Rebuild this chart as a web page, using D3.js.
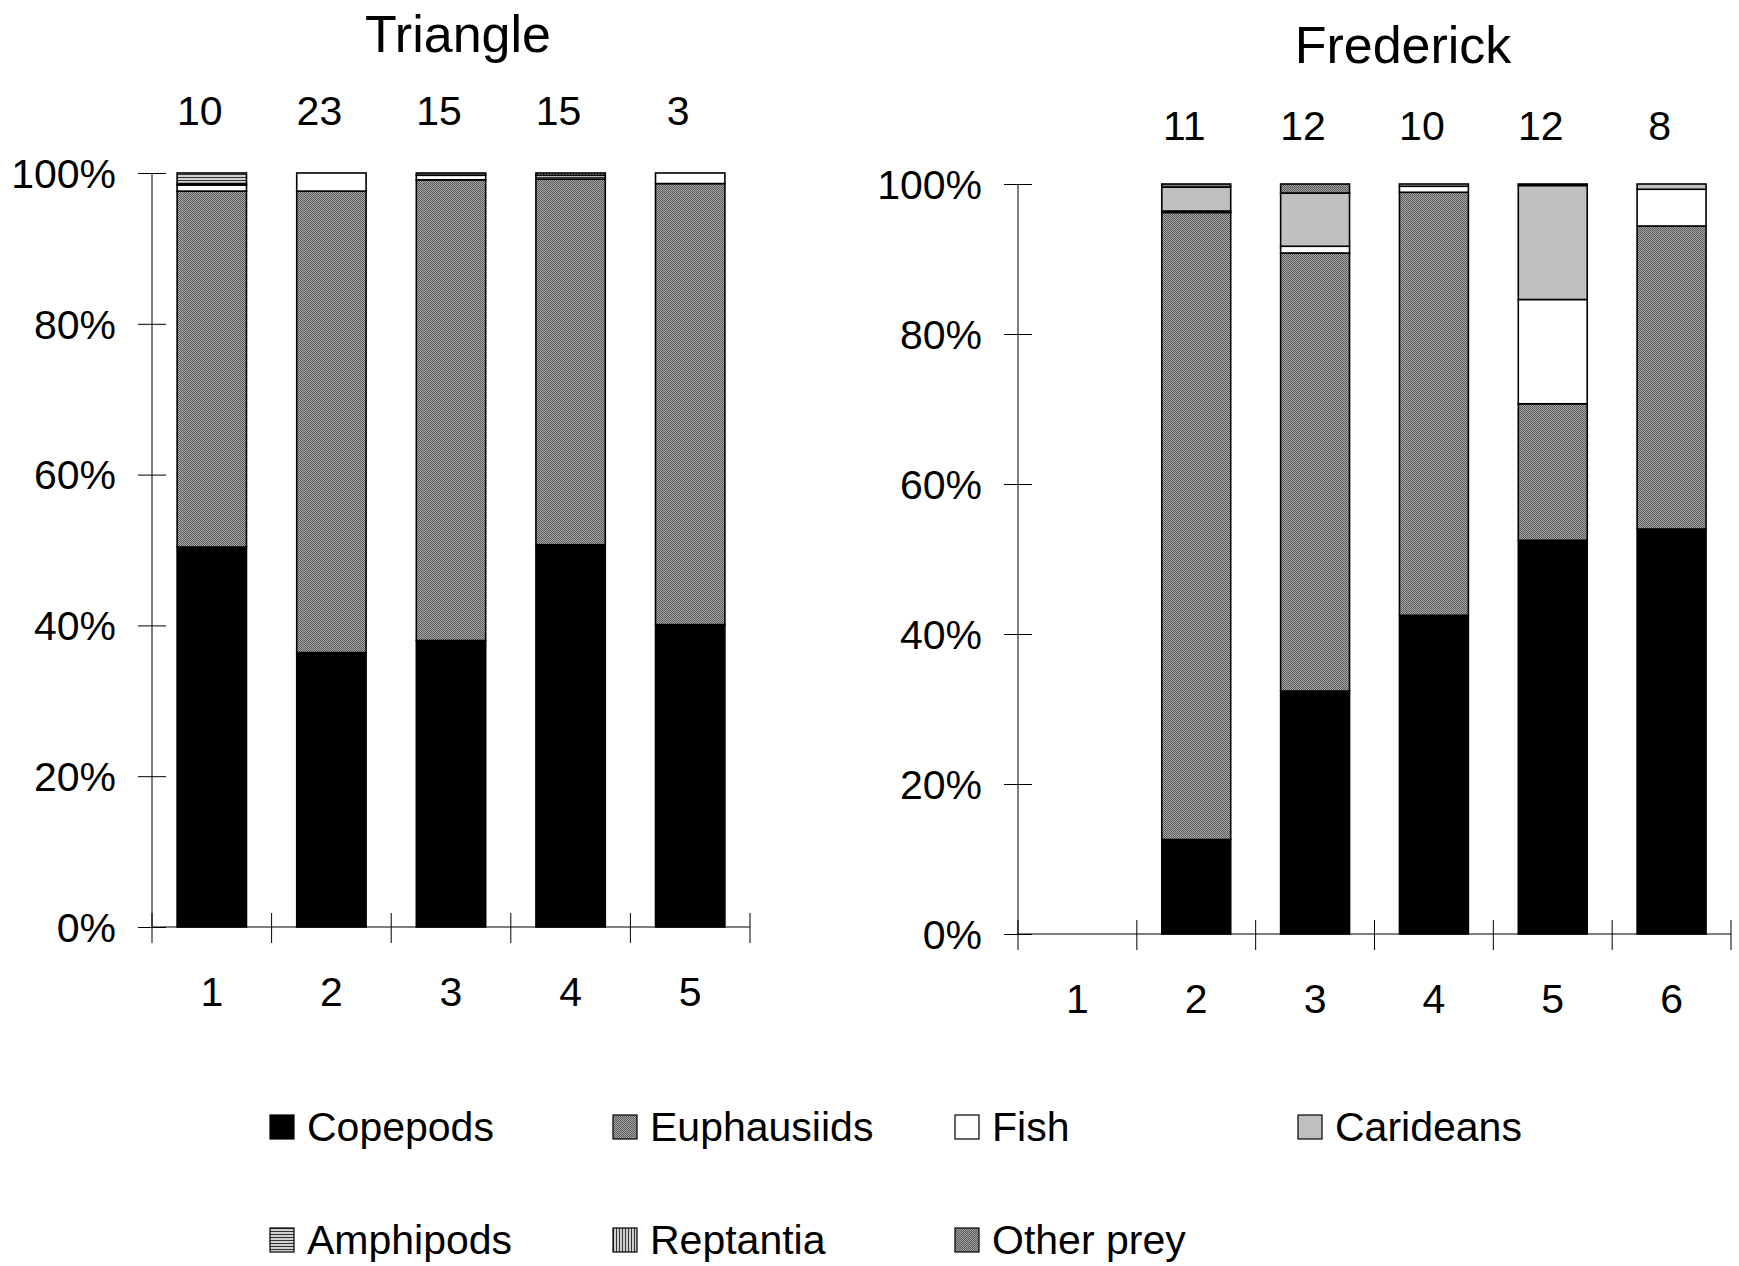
<!DOCTYPE html>
<html>
<head>
<meta charset="utf-8">
<script src="https://cdnjs.cloudflare.com/ajax/libs/d3/7.8.5/d3.min.js"></script>
<style>
body { margin: 0; background: #fff; }
text { font-family: "Liberation Sans", Arial, sans-serif; fill: #000; }
</style>
</head>
<body>
<div id="chart"></div>
<script>
// prey categories, stacked bottom -> top in this order
const PREY = ["Copepods", "Euphausiids", "Fish", "Carideans", "Amphipods", "Reptantia", "Other prey"];
const Y_TICKS = [0, 20, 40, 60, 80, 100];

// Triangle (percent of diet)
const TRI_STATIONS = ["1", "2", "3", "4", "5"];
const TRI_N = [10, 23, 15, 15, 3];
const TRI_COPEPODS = [50.4, 36.4, 38.0, 50.7, 40.1];
const TRI_EUPHAUSIIDS = [47.2, 61.2, 61.1, 48.5, 58.5];
const TRI_FISH = [0.8, 2.4, 0.6, 0, 1.4];
const TRI_CARIDEANS = [0.2, 0, 0, 0, 0];
const TRI_AMPHIPODS = [1.4, 0, 0, 0.5, 0];
const TRI_REPTANTIA = [0, 0, 0, 0.3, 0];
const TRI_OTHER = [0, 0, 0.3, 0, 0];

// Frederick (station 1 has no samples)
const FRE_STATIONS = ["1", "2", "3", "4", "5", "6"];
const FRE_N = [null, 11, 12, 10, 12, 8];
const FRE_COPEPODS = [0, 12.6, 32.4, 42.5, 52.5, 54.0];
const FRE_EUPHAUSIIDS = [0, 83.6, 58.4, 56.4, 18.2, 40.4];
const FRE_FISH = [0, 0.2, 0.9, 0.8, 13.9, 4.9];
const FRE_CARIDEANS = [0, 3.2, 7.1, 0, 15.2, 0.7];
const FRE_AMPHIPODS = [0, 0, 0, 0.3, 0, 0];
const FRE_REPTANTIA = [0, 0, 0, 0, 0, 0];
const FRE_OTHER = [0, 0.4, 1.2, 0, 0.2, 0];

const W = 1739, H = 1266;

let svg = d3.select("#chart").append("svg")
    .attr("width", W)
    .attr("height", H);

// fill patterns (dither / stripes like the old excel fills)
let defs = svg.append("defs");
function dither(id, light, dark) {
    let p = defs.append("pattern").attr("id", id)
        .attr("width", 2).attr("height", 2)
        .attr("patternUnits", "userSpaceOnUse");
    p.append("rect").attr("width", 2).attr("height", 2).attr("fill", light);
    p.append("rect").attr("width", 1).attr("height", 1).attr("fill", dark);
    p.append("rect").attr("x", 1).attr("y", 1).attr("width", 1).attr("height", 1).attr("fill", dark);
}
dither("euph", "#a6a6a6", "#5c5c5c");
dither("other", "#a2a2a2", "#5a5a5a");

let hs = defs.append("pattern").attr("id", "amph")
    .attr("width", 4).attr("height", 3).attr("patternUnits", "userSpaceOnUse");
hs.append("rect").attr("width", 4).attr("height", 3).attr("fill", "#d0d0d0");
hs.append("rect").attr("width", 4).attr("height", 1).attr("fill", "#333");

let vs = defs.append("pattern").attr("id", "rept")
    .attr("width", 3).attr("height", 4).attr("patternUnits", "userSpaceOnUse");
vs.append("rect").attr("width", 3).attr("height", 4).attr("fill", "#d0d0d0");
vs.append("rect").attr("width", 1).attr("height", 4).attr("fill", "#333");

const FILLS = ["#000", "url(#euph)", "#fff", "#c0c0c0", "url(#amph)", "url(#rept)", "url(#other)"];
let fill = d3.scaleOrdinal().domain(PREY).range(FILLS);

function rows(stations, cols) {
    return stations.map((s, i) => {
        let r = { station: s };
        PREY.forEach((p, j) => r[p] = cols[j][i]);
        return r;
    });
}

function drawPanel(cfg) {
    let data = rows(cfg.stations, cfg.cols);
    let g = svg.append("g");

    let x = d3.scaleBand()
        .domain(cfg.stations)
        .range([cfg.x0, cfg.x1])
        .paddingInner(0.42)
        .paddingOuter(0.21);
    let y = d3.scaleLinear().domain([0, 100]).range([cfg.y1, cfg.y0]);

    let series = d3.stack().keys(PREY)(data);

    g.selectAll("g.layer")
        .data(series)
        .enter().append("g")
        .attr("class", "layer")
        .attr("fill", d => fill(d.key))
        .selectAll("rect")
        .data(d => d.filter(v => v[1] - v[0] > 0))
        .enter().append("rect")
        .attr("x", d => x(d.data.station))
        .attr("width", x.bandwidth())
        .attr("y", d => y(d[1]))
        .attr("height", d => y(d[0]) - y(d[1]))
        .attr("stroke", "#000")
        .attr("stroke-width", 1.6);

    // y axis with ticks crossing the line
    let yAxis = g.append("g")
        .attr("transform", "translate(" + cfg.x0 + ",0)")
        .call(d3.axisLeft(y).tickValues(Y_TICKS).tickFormat(d => d + "%").tickSize(14).tickPadding(22));
    yAxis.select(".domain").attr("d", "M0," + y(100) + "V" + y(0)).attr("stroke", "#000");
    yAxis.selectAll(".tick line").attr("x1", 14).attr("x2", -14).attr("stroke", "#000");
    yAxis.selectAll(".tick text").attr("font-size", 41).attr("dy", "0.35em");

    // x axis: labels at band centres, ticks on band boundaries
    let xAxis = g.append("g")
        .attr("transform", "translate(0," + cfg.y1 + ")")
        .call(d3.axisBottom(x).tickSize(0).tickPadding(0));
    xAxis.select(".domain").attr("d", "M" + cfg.x0 + ",0H" + cfg.x1).attr("stroke", "#000");
    xAxis.selectAll(".tick text").attr("font-size", 41).attr("dy", "1.92em");
    let bounds = d3.range(cfg.stations.length + 1).map(i => x.range()[0] + i * x.step());
    xAxis.selectAll("line.bound")
        .data(bounds)
        .enter().append("line")
        .attr("class", "bound")
        .attr("x1", d => d).attr("x2", d => d)
        .attr("y1", -14).attr("y2", 16)
        .attr("stroke", "#000");

    // sample sizes above the bars
    g.selectAll("text.n")
        .data(cfg.stations.map((s, i) => ({ s: s, n: cfg.n[i] })).filter(d => d.n != null))
        .enter().append("text")
        .attr("class", "n")
        .attr("x", d => x(d.s) + x.bandwidth() / 2 - 12)
        .attr("y", cfg.nY)
        .attr("text-anchor", "middle")
        .attr("font-size", 41)
        .text(d => d.n);

    g.append("text")
        .attr("x", cfg.titleX)
        .attr("y", cfg.titleY)
        .attr("text-anchor", "middle")
        .attr("font-size", 52)
        .text(cfg.title);
}

drawPanel({
    title: "Triangle", titleX: 458, titleY: 52, nY: 125,
    x0: 152, x1: 750, y0: 173, y1: 927,
    stations: TRI_STATIONS, n: TRI_N,
    cols: [TRI_COPEPODS, TRI_EUPHAUSIIDS, TRI_FISH, TRI_CARIDEANS, TRI_AMPHIPODS, TRI_REPTANTIA, TRI_OTHER]
});

drawPanel({
    title: "Frederick", titleX: 1403, titleY: 63, nY: 140,
    x0: 1018, x1: 1731, y0: 184, y1: 934,
    stations: FRE_STATIONS, n: FRE_N,
    cols: [FRE_COPEPODS, FRE_EUPHAUSIIDS, FRE_FISH, FRE_CARIDEANS, FRE_AMPHIPODS, FRE_REPTANTIA, FRE_OTHER]
});

// legend, 4 per row
let legCols = [270, 613, 955, 1298];
let legRows = [1127, 1240];
let leg = svg.append("g").selectAll("g")
    .data(PREY)
    .enter().append("g")
    .attr("transform", (d, i) => "translate(" + legCols[i % 4] + "," + legRows[Math.floor(i / 4)] + ")");
leg.append("rect")
    .attr("x", 0).attr("y", -12)
    .attr("width", 24).attr("height", 24)
    .attr("fill", d => fill(d))
    .attr("stroke", "#000")
    .attr("stroke-width", 1.2);
leg.append("text")
    .attr("x", 37)
    .attr("dy", "0.35em")
    .attr("font-size", 41)
    .text(d => d);
</script>
</body>
</html>
